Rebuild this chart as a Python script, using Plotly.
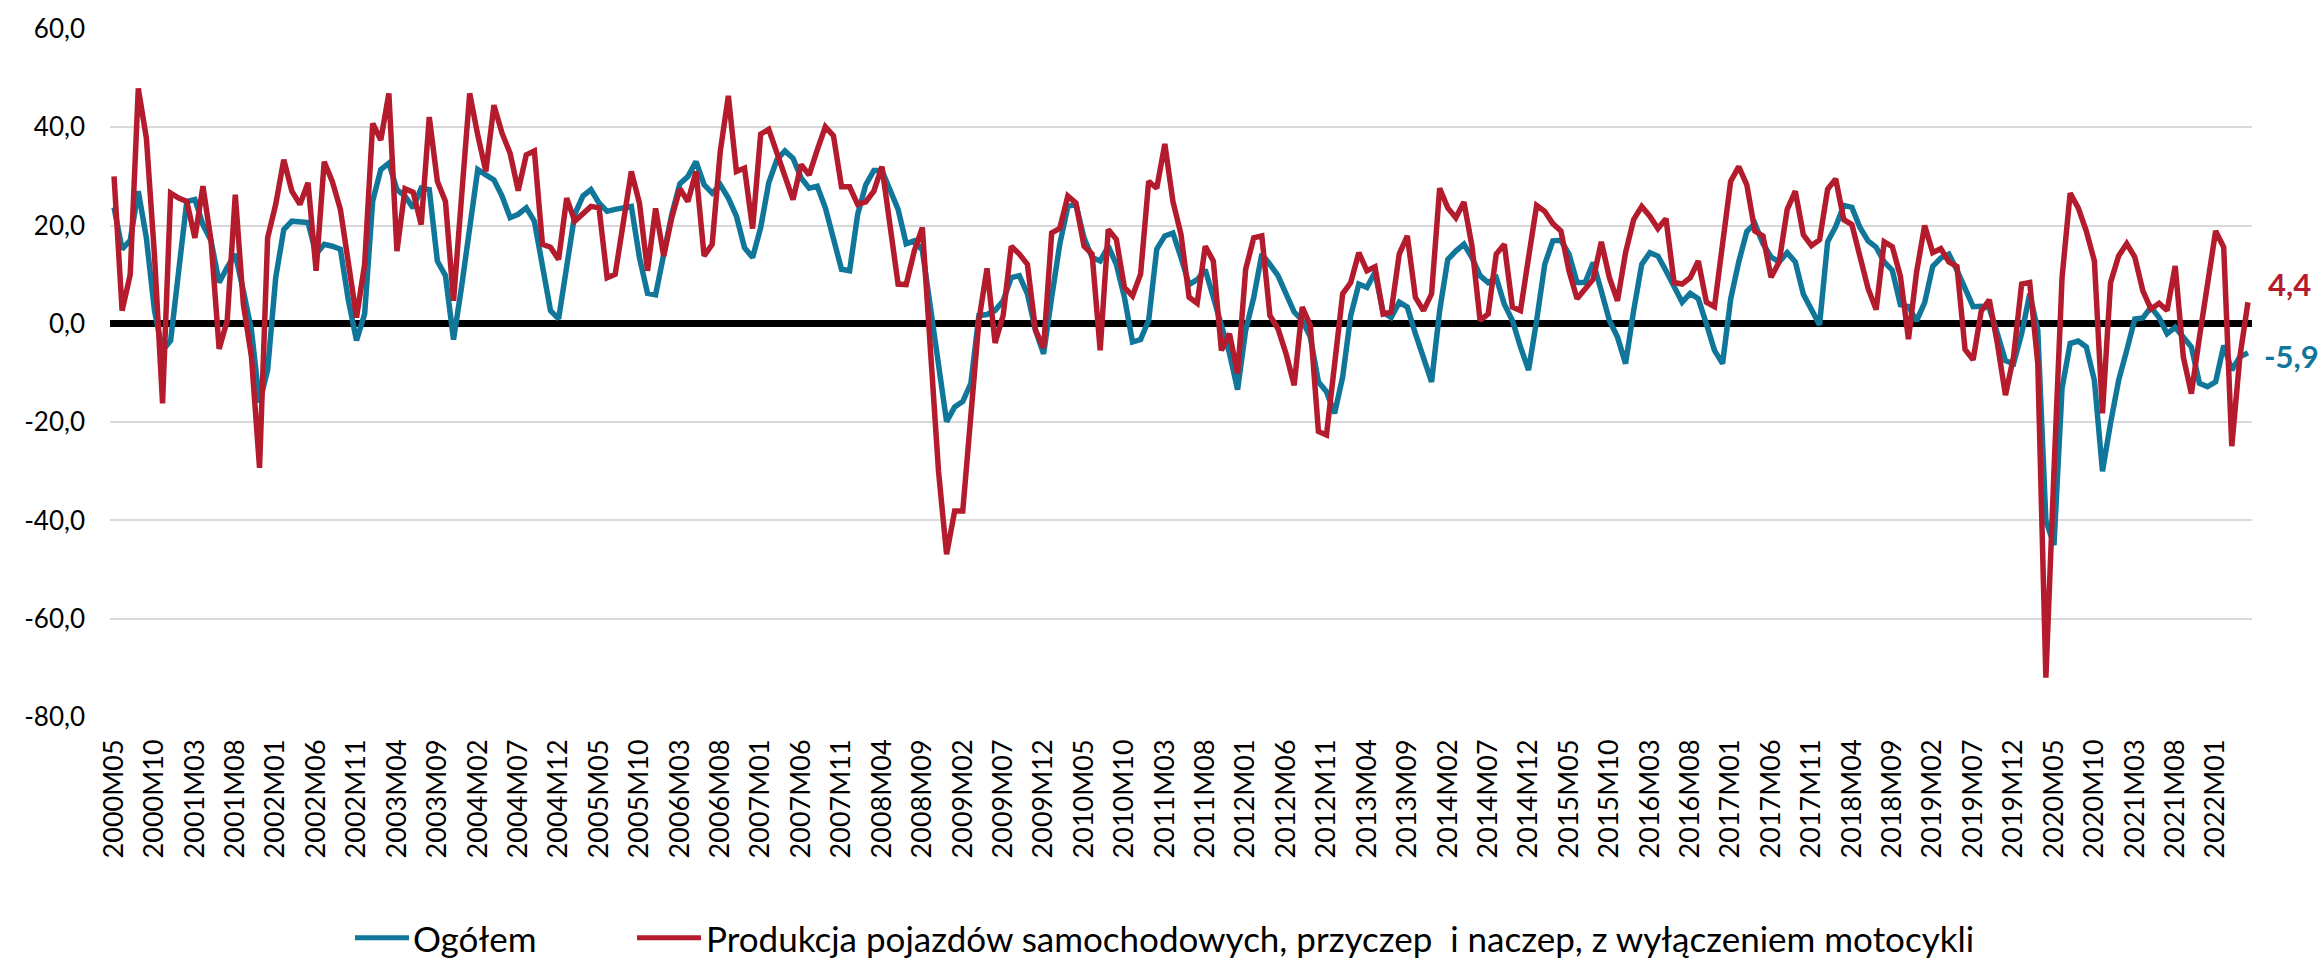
import plotly.graph_objects as go

# Monthly categories 2000M05 .. 2022M05
months = [f"{2000 + (4 + k) // 12}M{(4 + k) % 12 + 1:02d}" for k in range(265)]

# Ogółem, r/r %
ogolem = [
    23.7, 15.2, 17.0, 27.0, 17.5, 2.7, -5.4, -3.4, 10.8, 24.9,
    25.3, 20.2, 16.9, 8.4, 11.5, 14.2, 6.7, -1.3, -16.0, -9.4,
    9.4, 19.2, 20.9, 20.8, 20.6, 14.2, 16.2, 15.8, 15.2, 4.7,
    -3.4, 2.0, 25.0, 31.4, 32.7, 27.3, 26.0, 23.6, 27.6, 27.3,
    12.8, 9.8, -3.2, 7.6, 19.5, 31.4, 30.3, 29.3, 26.0, 21.6,
    22.3, 23.6, 20.9, 12.1, 2.7, 1.0, 12.1, 22.3, 26.0, 27.3,
    24.6, 22.9, 23.3, 23.6, 23.9, 13.5, 6.2, 5.9, 14.2, 22.3,
    28.5, 30.0, 33.0, 28.3, 26.6, 28.3, 25.6, 21.9, 15.5, 13.5,
    19.6, 28.7, 33.4, 35.2, 33.7, 29.7, 27.6, 28.0, 23.6, 17.5,
    11.1, 10.8, 22.3, 28.3, 31.2, 31.2, 27.0, 23.3, 16.3, 16.9,
    15.0, 3.0, -9.0, -19.9, -16.9, -15.8, -12.1, 1.7, 1.9, 2.7,
    4.7, 9.4, 9.8, 6.1, -1.3, -6.1, 5.4, 16.2, 23.9, 24.3,
    17.5, 13.5, 12.8, 15.8, 12.1, 5.4, -3.7, -3.2, 0.7, 15.2,
    17.9, 18.5, 13.5, 8.0, 9.0, 11.0, 5.4, -0.7, -6.0, -13.4,
    -1.3, 5.4, 14.2, 12.1, 9.8, 6.1, 2.4, 0.7, -2.7, -11.8,
    -13.8, -18.2, -10.8, 1.7, 8.1, 7.4, 10.5, 2.4, 1.3, 4.4,
    3.4, -2.0, -6.7, -11.8, 2.7, 13.1, 14.8, 16.2, 13.5, 9.8,
    8.4, 9.4, 4.0, 0.7, -4.7, -9.4, 0.7, 12.1, 16.9, 17.0,
    14.2, 8.4, 8.4, 12.5, 6.7, 0.7, -2.7, -8.1, 2.7, 12.1,
    14.5, 13.8, 10.8, 7.8, 4.4, 6.2, 5.1, 0.0, -5.4, -8.1,
    5.0, 12.6, 18.8, 20.4, 16.3, 13.6, 12.6, 14.5, 12.6, 6.0,
    2.6, -0.2, 16.7, 19.8, 24.1, 23.7, 19.6, 16.9, 15.6, 12.6,
    10.9, 3.9, 3.5, 0.6, 4.3, 11.7, 13.4, 14.2, 10.9, 7.2,
    3.5, 3.6, 3.2, -2.0, -7.5, -8.1, -2.0, 6.1, -1.3, -40.0,
    -45.0, -13.1, -4.0, -3.5, -4.7, -11.5, -30.0, -20.2, -11.5, -5.4,
    1.0, 1.2, 3.4, 1.3, -2.0, -0.7, -2.7, -4.7, -12.1, -12.8,
    -11.8, -4.4, -9.4, -6.7, -5.9,
]

# Produkcja pojazdów samochodowych, przyczep i naczep, r/r %
pojazdy = [
    30.0, 2.7, 10.0, 47.9, 37.8, 14.0, -16.2, 26.6, 25.6, 24.9,
    17.5, 28.0, 16.9, -5.1, 0.7, 26.3, 4.0, -6.7, -29.3, 17.5,
    24.3, 33.4, 27.0, 24.3, 28.7, 10.8, 33.0, 29.0, 23.3, 12.1,
    1.3, 12.1, 40.8, 37.4, 46.9, 14.8, 27.5, 26.8, 20.2, 42.1,
    29.0, 24.9, 4.7, 26.0, 46.9, 38.4, 31.0, 44.5, 38.8, 34.7,
    27.1, 34.4, 35.2, 16.2, 15.6, 13.1, 25.6, 20.9, 22.5, 23.9,
    23.6, 9.4, 10.1, 20.6, 31.0, 24.6, 10.8, 23.5, 13.8, 21.6,
    27.5, 24.9, 31.0, 13.8, 16.2, 35.1, 46.4, 31.0, 31.7, 19.4,
    38.6, 39.6, 34.7, 30.0, 25.3, 32.4, 30.3, 35.4, 40.1, 38.3,
    27.9, 27.9, 24.3, 24.8, 27.0, 32.0, 19.9, 8.1, 8.0, 14.8,
    19.6, -6.0, -30.0, -46.9, -38.1, -38.1, -18.2, 0.7, 11.3, -3.9,
    1.7, 15.8, 14.2, 12.1, -1.3, -4.9, 18.5, 19.4, 26.0, 24.6,
    15.8, 14.2, -5.4, 19.2, 17.2, 7.4, 5.7, 10.1, 29.0, 27.6,
    36.6, 24.9, 18.2, 5.4, 4.2, 15.8, 12.8, -5.4, -2.0, -10.1,
    11.1, 17.5, 17.9, 1.7, -1.0, -6.1, -12.5, 3.4, -0.3, -21.9,
    -22.6, -8.0, 6.1, 8.4, 14.5, 10.8, 11.6, 2.0, 2.4, 14.2,
    17.9, 5.4, 2.7, 6.1, 27.6, 23.6, 21.6, 24.8, 15.8, 0.7,
    2.0, 14.2, 16.2, 3.4, 2.7, 13.5, 24.1, 22.9, 20.4, 18.9,
    10.8, 5.1, 7.1, 9.1, 16.7, 9.4, 4.7, 14.5, 21.2, 23.9,
    21.9, 19.4, 21.4, 8.4, 8.1, 9.4, 12.8, 4.4, 3.5, 16.9,
    29.0, 32.0, 28.3, 18.9, 17.9, 9.5, 12.6, 23.3, 27.0, 18.1,
    15.9, 17.1, 27.4, 29.5, 21.2, 20.2, 13.8, 7.2, 2.9, 16.7,
    15.7, 9.7, -3.1, 10.5, 20.0, 14.5, 15.3, 12.6, 11.7, -5.2,
    -7.3, 2.6, 4.9, -4.0, -14.5, -6.7, 8.1, 8.4, -8.1, -72.0,
    -30.0, 9.4, 26.6, 23.6, 18.9, 12.8, -18.2, 8.4, 13.8, 16.3,
    13.6, 6.7, 3.0, 4.2, 2.7, 11.8, -6.7, -14.2, -2.7, 8.1,
    18.9, 15.6, -24.9, -6.7, 4.4,
]

series_names = [
    "Ogółem",
    "Produkcja pojazdów samochodowych, przyczep  i naczep, z wyłączeniem motocykli",
]
series_colors = ["#11779a", "#b41b2d"]

y_tick_values = [-80, -60, -40, -20, 0, 20, 40, 60]
y_tick_labels = ["-80,0", "-60,0", "-40,0", "-20,0", "0,0", "20,0", "40,0", "60,0"]
x_tick_labels = months[::5]

FONT = "Lato"
TEXT = "#000000"

# plot area in pixels (used to place the legend row below the axis)
W, H = 2318, 969
M_L, M_R, M_T, M_B = 110, 66, 22, 252
PW, PH = W - M_L - M_R, H - M_T - M_B


def px_x(px):
    return (px - M_L) / PW


def px_y(py):
    return (H - M_B - py) / PH


def fmt(v):
    return f"{v:.1f}".replace(".", ",")


fig = go.Figure()
for name, values, color in zip(series_names, [ogolem, pojazdy], series_colors):
    fig.add_trace(go.Scatter(
        x=months, y=values, mode="lines", name=name,
        line=dict(color=color, width=5.5),
        hoverinfo="x+y",
    ))

# value labels at the last month
fig.add_annotation(x=months[-1], y=pojazdy[-1], text=f"<b>{fmt(pojazdy[-1])}</b>",
                   showarrow=False, xanchor="left", yanchor="middle",
                   xshift=18, yshift=18,
                   font=dict(family=FONT, size=31, color=series_colors[1]))
fig.add_annotation(x=months[-1], y=ogolem[-1], text=f"<b>{fmt(ogolem[-1])}</b>",
                   showarrow=False, xanchor="left", yanchor="middle",
                   xshift=14, yshift=-3,
                   font=dict(family=FONT, size=31, color=series_colors[0]))

# legend row: a line sample followed by the series name
legend_y = 940
legend_items = [(355, 409, 411), (637, 701, 704)]
for (x0, x1, xt), name, color in zip(legend_items, series_names, series_colors):
    fig.add_shape(type="line", xref="paper", yref="paper",
                  x0=px_x(x0), x1=px_x(x1), y0=px_y(legend_y), y1=px_y(legend_y),
                  line=dict(color=color, width=5))
    fig.add_annotation(xref="paper", yref="paper", x=px_x(xt), y=px_y(legend_y),
                       text=name, showarrow=False, xanchor="left", yanchor="middle",
                       font=dict(family=FONT, size=35, color=TEXT))

fig.update_layout(
    width=W, height=H, autosize=False,
    margin=dict(l=M_L, r=M_R, t=M_T, b=M_B),
    paper_bgcolor="white", plot_bgcolor="white",
    font=dict(family=FONT, color=TEXT),
    showlegend=False,
    xaxis=dict(
        type="category", range=[-0.5, len(months) - 0.5],
        tickmode="array", tickvals=x_tick_labels, ticktext=x_tick_labels,
        tickangle=-90, tickfont=dict(family=FONT, size=27, color=TEXT),
        showgrid=False, zeroline=False, showline=False, ticks="",
        ticklabelstandoff=16,
    ),
    yaxis=dict(
        range=[-80, 60], tickmode="array",
        tickvals=y_tick_values, ticktext=y_tick_labels,
        tickfont=dict(family=FONT, size=26, color=TEXT),
        showgrid=True, gridcolor="#d9d9d9", gridwidth=2,
        zeroline=True, zerolinecolor="#000000", zerolinewidth=7,
        showline=False, ticks="", ticklabelstandoff=24,
    ),
)

fig.write_html("out.html", post_script="document.body.style.margin='0';")
